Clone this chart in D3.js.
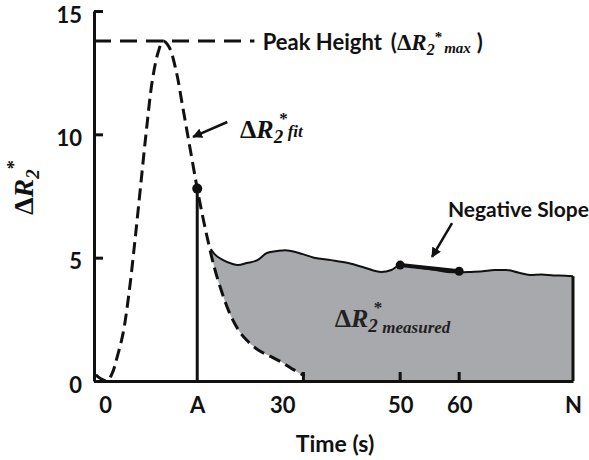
<!DOCTYPE html>
<html>
<head>
<meta charset="utf-8">
<script src="https://cdn.jsdelivr.net/npm/d3@7"></script>
<style>
  body { margin: 0; background: #fff; }
  svg { display: block; }
</style>
</head>
<body>
<div id="chart"></div>
<script>
// chart values
const fitT = [-1.6, -0.8, 0.3, 1.2, 2, 3, 4, 5, 6, 7, 8, 9, 9.8, 10.8, 12, 13, 14, 15, 15.6, 16.5, 17.5, 18.5, 19.5, 21, 22.5, 24, 26, 28, 30, 32, 33.8];
const fitV = [0.25, 0.1, 0, 0.32, 0.95, 1.9, 3.5, 5.6, 7.9, 10.2, 12.2, 13.35, 13.78, 13.55, 12.6, 11.3, 9.95, 8.6, 7.8, 6.7, 5.6, 4.6, 3.8, 2.8, 2.1, 1.65, 1.25, 1.0, 0.75, 0.45, 0.2];

const measT = [17.9, 18.5, 20, 21.5, 22.5, 24, 25.8, 27.5, 29.2, 30.5, 32.7, 35.4, 38.3, 41.2, 43.9, 46.8, 48.5, 50, 53, 56, 58, 60, 62, 64, 66, 68, 70, 72, 74, 76, 78, 79.3];
const measV = [5.35, 5.15, 4.9, 4.75, 4.7, 4.78, 4.9, 5.2, 5.27, 5.3, 5.2, 5.0, 4.9, 4.78, 4.6, 4.42, 4.5, 4.7, 4.6, 4.5, 4.42, 4.4, 4.42, 4.45, 4.5, 4.5, 4.4, 4.3, 4.32, 4.28, 4.27, 4.25];

const slopeT = [50, 60];
const slopeV = [4.7, 4.45];

const peakV = 13.78;
const tA = 15.6, vA = 7.8;
const tN = 79.3;

const yTicks = [0, 5, 10, 15];
const xTickVals = [0, tA, 30, 50, 60, tN];
const xTickLabels = ['0', 'A', '30', '50', '60', 'N'];
const xInnerTicks = [33.6, 50, 60];

const width = 589, height = 460;
const sans = 'Lato, "Open Sans", sans-serif';
const serif = '"Liberation Serif", "Times New Roman", serif';
const grey = '#a7a9ac';

const svg = d3.select('#chart').append('svg')
  .attr('width', width)
  .attr('height', height);

const x = d3.scaleLinear().domain([-1.9, tN]).range([94, 573]);
const y = d3.scaleLinear().domain([0, 15]).range([381, 11]);

const fit = fitT.map((t, i) => ({t, v: fitV[i]}));
const meas = measT.map((t, i) => ({t, v: measV[i]}));

svg.append('defs').append('marker')
  .attr('id', 'arrow')
  .attr('viewBox', '0 0 10 10')
  .attr('refX', 9).attr('refY', 5)
  .attr('markerWidth', 4).attr('markerHeight', 4)
  .attr('orient', 'auto')
  .append('path')
  .attr('d', 'M0,0 L10,5 L0,10 z')
  .attr('fill', '#111');

// grey measured area, then blank out what sits under the fit
const area = d3.area().x(d => x(d.t)).y0(y(0)).y1(d => y(d.v)).curve(d3.curveMonotoneX);
svg.append('path').datum(meas).attr('d', area).attr('fill', grey);
svg.append('path').datum(fit.filter(d => d.t >= 17.5)).attr('d', area).attr('fill', '#fff');

const line = d3.line().x(d => x(d.t)).y(d => y(d.v)).curve(d3.curveMonotoneX);

svg.append('path').datum(meas).attr('d', line)
  .attr('fill', 'none').attr('stroke', '#111').attr('stroke-width', 2);

// vertical line at A
svg.append('line')
  .attr('x1', x(tA)).attr('x2', x(tA))
  .attr('y1', y(vA)).attr('y2', y(0))
  .attr('stroke', '#111').attr('stroke-width', 3);

// vertical line at N
svg.append('line')
  .attr('x1', x(tN)).attr('x2', x(tN))
  .attr('y1', y(measV[measV.length - 1])).attr('y2', y(0))
  .attr('stroke', '#111').attr('stroke-width', 3);

// fitted curve
const fitCurve = d3.line().x(d => x(d.t)).y(d => y(d.v)).curve(d3.curveCatmullRom);
svg.append('path').datum(fit).attr('d', fitCurve)
  .attr('fill', 'none').attr('stroke', '#111').attr('stroke-width', 3)
  .attr('stroke-dasharray', '12,6');

// peak line
svg.append('line')
  .attr('x1', x.range()[0]).attr('x2', x(25.3))
  .attr('y1', y(peakV)).attr('y2', y(peakV))
  .attr('stroke', '#111').attr('stroke-width', 3)
  .attr('stroke-dasharray', '17,9');

// negative slope segment
svg.append('line')
  .attr('x1', x(slopeT[0])).attr('x2', x(slopeT[1]))
  .attr('y1', y(slopeV[0])).attr('y2', y(slopeV[1]))
  .attr('stroke', '#111').attr('stroke-width', 4);
svg.selectAll('.sdot').data(slopeT).enter().append('circle')
  .attr('cx', d => x(d)).attr('cy', (d, i) => y(slopeV[i]))
  .attr('r', 4.5).attr('fill', '#111');

svg.append('circle').attr('cx', x(tA)).attr('cy', y(vA)).attr('r', 5).attr('fill', '#111');

// axes
const yAxis = svg.append('g')
  .attr('transform', `translate(${x.range()[0]},0)`)
  .call(d3.axisLeft(y).tickValues(yTicks).tickSize(-9).tickSizeOuter(0).tickPadding(12));

const xAxis = svg.append('g')
  .attr('transform', `translate(0,${y(0)})`)
  .call(d3.axisBottom(x).tickValues(xTickVals).tickFormat((d, i) => xTickLabels[i])
    .tickSize(0).tickSizeOuter(0).tickPadding(16));

[yAxis, xAxis].forEach(g => {
  g.select('.domain').attr('stroke', '#111').attr('stroke-width', 3);
  g.selectAll('.tick line').attr('stroke', '#111').attr('stroke-width', 3);
  g.selectAll('.tick text').attr('font-family', sans).attr('font-weight', 'bold')
    .attr('font-size', 22).attr('fill', '#111');
});
yAxis.selectAll('.tick text').attr('dy', '0.5em');

svg.selectAll('.itick').data(xInnerTicks).enter().append('line')
  .attr('x1', d => x(d)).attr('x2', d => x(d))
  .attr('y1', y(0)).attr('y2', y(0) - 9)
  .attr('stroke', '#111').attr('stroke-width', 3);

// axis titles
svg.append('text')
  .attr('x', 335).attr('y', 452)
  .attr('text-anchor', 'middle')
  .attr('font-family', sans).attr('font-weight', 'bold').attr('font-size', 23)
  .attr('fill', '#111')
  .text('Time (s)');

const yl = svg.append('text')
  .attr('transform', 'translate(33,215) rotate(-90)')
  .attr('font-family', serif).attr('font-weight', 'bold').attr('font-size', 28)
  .attr('fill', '#111');
yl.append('tspan').text('Δ');
yl.append('tspan').attr('font-style', 'italic').text('R');
yl.append('tspan').attr('font-style', 'italic').attr('font-size', 19).attr('dy', 6).text('2');
yl.append('tspan').attr('font-size', 18).attr('dy', -19).text('*');

// peak label
const pk = svg.append('text')
  .attr('x', x(26.7)).attr('y', y(peakV) + 9)
  .attr('font-family', sans).attr('font-weight', 'bold').attr('font-size', 22)
  .attr('fill', '#111');
pk.append('tspan').text('Peak Height');
pk.append('tspan').attr('dx', 9).text('(');
pk.append('tspan').attr('font-family', serif).attr('font-size', 23).text('Δ');
pk.append('tspan').attr('font-family', serif).attr('font-style', 'italic').attr('font-size', 23).text('R');
pk.append('tspan').attr('font-family', serif).attr('font-style', 'italic').attr('font-size', 16).attr('dy', 5).text('2');
pk.append('tspan').attr('font-family', serif).attr('font-size', 15).attr('dy', -13).text('*');
pk.append('tspan').attr('font-family', serif).attr('font-style', 'italic').attr('font-size', 15).attr('dx', 2).attr('dy', 11).text('max');
pk.append('tspan').attr('dx', 6).attr('dy', -3).text(')');

// fit label
const fl = svg.append('text')
  .attr('x', x(22.85)).attr('y', y(9.85))
  .attr('font-family', serif).attr('font-weight', 'bold').attr('font-size', 26)
  .attr('fill', '#111');
fl.append('tspan').text('Δ');
fl.append('tspan').attr('font-style', 'italic').text('R');
fl.append('tspan').attr('font-style', 'italic').attr('font-size', 19).attr('dy', 5).text('2');
fl.append('tspan').attr('font-size', 17).attr('dx', -4).attr('dy', -19).text('*');
fl.append('tspan').attr('font-style', 'italic').attr('font-size', 17).attr('dy', 13).text('fit');

svg.append('line')
  .attr('x1', x(20.7)).attr('y1', y(10.5))
  .attr('x2', x(14.9)).attr('y2', y(9.9))
  .attr('stroke', '#111').attr('stroke-width', 2.5)
  .attr('marker-end', 'url(#arrow)');

// measured label
const ml = svg.append('text')
  .attr('x', x(38.9)).attr('y', y(2.2))
  .attr('font-family', serif).attr('font-weight', 'bold').attr('font-size', 26)
  .attr('fill', '#222');
ml.append('tspan').text('Δ');
ml.append('tspan').attr('font-style', 'italic').text('R');
ml.append('tspan').attr('font-style', 'italic').attr('font-size', 19).attr('dy', 5).text('2');
ml.append('tspan').attr('font-size', 17).attr('dx', -4).attr('dy', -19).text('*');
ml.append('tspan').attr('font-style', 'italic').attr('font-size', 17).attr('dy', 20).text('measured');

// negative slope label
svg.append('text')
  .attr('x', x(58.1)).attr('y', y(6.65))
  .attr('font-family', sans).attr('font-weight', 'bold').attr('font-size', 21)
  .attr('fill', '#111')
  .text('Negative Slope');

svg.append('line')
  .attr('x1', x(58.8)).attr('y1', y(6.4))
  .attr('x2', x(55.4)).attr('y2', y(5.03))
  .attr('stroke', '#111').attr('stroke-width', 2.5)
  .attr('marker-end', 'url(#arrow)');
</script>
</body>
</html>
